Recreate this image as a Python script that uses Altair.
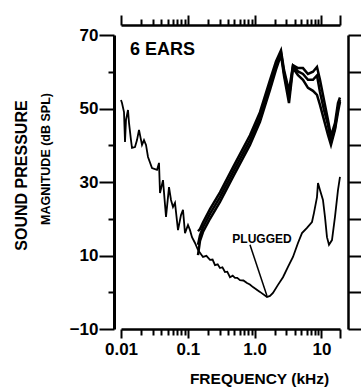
import altair as alt
import pandas as pd

# ---- data (frequency in kHz, level in dB SPL) ----
low_f = [0.01, 0.01035, 0.01109, 0.01148, 0.01188, 0.01273, 0.01318, 0.01411, 0.01461, 0.01620,
         0.01736, 0.01860, 0.02063, 0.02210, 0.02368, 0.02537, 0.02912, 0.03459, 0.03706, 0.03836,
         0.04254, 0.04718, 0.05232, 0.05606, 0.06004, 0.06434, 0.07134, 0.07911, 0.08476, 0.09081,
         0.1007, 0.1079, 0.1156, 0.1282, 0.1422]
low_db = [52.3, 51.5, 49.0, 40.9, 46.9, 49.6, 46.1, 41.4, 39.3, 39.5,
          41.4, 44.2, 40.1, 41.4, 40.1, 36.8, 33.8, 33.3, 35.2, 27.0,
          30.5, 20.5, 28.6, 25.1, 23.2, 24.3, 16.9, 21.0, 22.4, 16.1,
          18.3, 16.9, 15.0, 13.4, 11.5]

open_f = [0.1422, 0.1523, 0.1688, 0.2149, 0.3034, 0.4749, 0.8533, 1.204, 1.700, 2.091,
          2.484, 2.755, 3.273, 3.757, 4.464, 5.302, 6.300, 7.486, 8.594, 9.528,
          10.94, 12.56, 13.92, 15.98, 17.72, 18.99]
open_a_db = [16.6, 17.2, 19.0, 22.6, 27.2, 34.0, 42.7, 49.0, 57.7, 62.8,
             65.8, 60.5, 54.8, 61.8, 61.0, 61.0, 59.4, 60.0, 61.3, 57.8,
             52.3, 46.9, 42.5, 46.0, 51.5, 53.0]
open_b_db = [10.1, 14.0, 16.4, 20.0, 24.6, 31.4, 40.1, 46.4, 55.1, 60.6,
             64.6, 59.0, 51.5, 61.0, 59.1, 57.8, 55.6, 54.8, 53.7, 51.0,
             46.9, 42.8, 40.1, 44.2, 49.0, 51.8]
open_c_db = [12.9, 15.5, 17.7, 21.3, 25.9, 32.7, 41.4, 47.7, 56.4, 61.7,
             65.2, 59.8, 53.0, 61.6, 60.1, 59.4, 57.8, 57.8, 59.0, 54.5,
             49.6, 45.5, 40.9, 44.7, 50.1, 52.3]

plug_f = [0.1422, 0.1688, 0.19, 0.2149, 0.235, 0.2554, 0.28, 0.3034, 0.33, 0.3604,
          0.39, 0.4282, 0.47, 0.5087, 0.55, 0.6044, 0.68, 0.7694, 0.85, 0.9462,
          1.204, 1.533, 1.700, 1.885, 2.240, 2.662, 3.162, 3.757, 4.464, 5.124,
          6.087, 7.233, 7.748, 8.594, 8.896, 9.528, 10.56, 11.32, 12.13, 13.0,
          14.41, 15.98, 17.72, 18.99]
plug_db = [11.5, 9.6, 9.9, 8.8, 8.9, 7.4, 7.6, 6.6, 6.8, 5.5,
           5.6, 4.1, 4.5, 3.9, 3.9, 3.3, 3.2, 2.5, 2.1, 1.4,
           0.1, -1.3, -1.0, -0.2, 2.0, 4.1, 6.9, 9.6, 13.4, 16.1,
           17.5, 19.1, 21.6, 25.9, 29.7, 27.8, 25.1, 20.5, 15.0, 12.9,
           14.2, 20.5, 27.8, 31.4]

pointer_f = [0.853]
pointer_db = [12.9]
pointer_f2 = [1.535]
pointer_db2 = [-1.0]

label_text = ["6 EARS", "PLUGGED"]
label_f = [0.0136, 1.29]
label_db = [64.6, 13.4]

x_major = [0.01, 0.1, 1, 10, 19]
x_minor = [0.02, 0.03, 0.04, 0.05, 0.06, 0.07, 0.08, 0.09,
           0.2, 0.3, 0.4, 0.5, 0.6, 0.7, 0.8, 0.9,
           2, 3, 4, 5, 6, 7, 8, 9]
y_ticks = [-10, 0, 10, 20, 30, 40, 50, 60, 70]
y_major = [-10, 10, 30, 50, 70]


def frame(f, db, name):
    return pd.DataFrame({"f": f, "db": db, "series": name, "i": list(range(len(f)))})


low_df = frame(low_f, low_db, "low")
open_df = pd.concat([frame(open_f, open_a_db, "A"),
                     frame(open_f, open_b_db, "B"),
                     frame(open_f, open_c_db, "C")])
plug_df = frame(plug_f, plug_db, "plugged")
ptr_df = pd.DataFrame({"f": pointer_f, "db": pointer_db, "f2": pointer_f2, "db2": pointer_db2})
lab_df = pd.DataFrame({"t": label_text, "f": label_f, "db": label_db})

FONT = "Liberation Sans"
INK = "#000000"

xs = alt.Scale(type="log", domain=[0.01, 19], nice=False)
ys = alt.Scale(domain=[-10, 70], nice=False, zero=False)

x_vals = sorted(x_major + x_minor)
x_test = "indexof(" + str(x_major) + ", datum.value) >= 0"
y_test = "indexof(" + str(y_major) + ", datum.value) >= 0"

common = dict(domainColor=INK, tickColor=INK, grid=False, labelColor=INK,
              titleColor=INK, tickWidth=2, tickOpacity=1)

ax_bottom = alt.Axis(
    orient="bottom", values=x_vals,
    tickSize={"condition": {"test": x_test, "value": 9}, "value": 6}, domainWidth=2.5,
    labelExpr="datum.value == 0.01 ? '0.01' : datum.value == 0.1 ? '0.1' : datum.value == 1 ? '1.0' : datum.value == 10 ? '10' : ''",
    labelFont=FONT, labelFontSize=17, labelFontWeight="bold", labelPadding=3,
    labelFlush=False, labelOverlap=False,
    title="FREQUENCY (kHz)", titleFont=FONT, titleFontSize=15.5, titleFontWeight="bold",
    titleX=138, titleY=54, titleBaseline="alphabetic", titleAlign="center", **common)
ax_top = alt.Axis(orient="top", values=x_vals,
                  tickSize={"condition": {"test": x_test, "value": 10}, "value": 6}, offset=10,
                  labels=False, domainWidth=2.5, title="", **common)
ax_left = alt.Axis(
    orient="left", values=y_ticks,
    tickSize={"condition": {"test": y_test, "value": 15}, "value": 6}, offset=7, domainWidth=3,
    labelExpr="datum.value % 20 == 10 || datum.value % 20 == -10 ? replace(format(datum.value, 'd'), '-', '\u2212') : ''",
    labelFont=FONT, labelFontSize=17, labelFontWeight="bold", labelPadding=1,
    labelOverlap=False,
    title="SOUND PRESSURE", titleFont=FONT, titleFontSize=16, titleFontWeight="bold",
    titleX=-88, titleY=140, titleAngle=270, titleBaseline="alphabetic", titleAlign="center",
    **common)
ax_right = alt.Axis(orient="right", values=y_ticks, tickSize=15, offset=8, labels=False,
                    domainWidth=2.5, title="", **common)

low_line = alt.Chart(low_df).mark_line(color=INK, strokeWidth=1.8).encode(
    x=alt.X("f:Q", scale=xs, axis=ax_bottom),
    y=alt.Y("db:Q", scale=ys, axis=ax_left),
    order="i:Q")

open_lines = alt.Chart(open_df).mark_line(color=INK, strokeWidth=2.5).encode(
    x=alt.X("f:Q", scale=xs, axis=None),
    y=alt.Y("db:Q", scale=ys, axis=None),
    detail="series:N", order="i:Q")

plug_line = alt.Chart(plug_df).mark_line(color=INK, strokeWidth=1.8).encode(
    x=alt.X("f:Q", scale=xs, axis=ax_top),
    y=alt.Y("db:Q", scale=ys, axis=ax_right),
    order="i:Q")

pointer = alt.Chart(ptr_df).mark_rule(color=INK, strokeWidth=1.5).encode(
    x=alt.X("f:Q", scale=xs, axis=None),
    y=alt.Y("db:Q", scale=ys, axis=None),
    x2="f2:Q", y2="db2:Q")

labels_a = alt.Chart(lab_df.iloc[[0]]).mark_text(
    align="left", baseline="alphabetic", font=FONT, fontSize=18, fontWeight="bold",
    color=INK).encode(
    x=alt.X("f:Q", scale=xs, axis=None), y=alt.Y("db:Q", scale=ys, axis=None), text="t:N")

labels_b = alt.Chart(lab_df.iloc[[1]]).mark_text(
    align="center", baseline="alphabetic", font=FONT, fontSize=12, fontWeight="bold",
    color=INK).encode(
    x=alt.X("f:Q", scale=xs, axis=None), y=alt.Y("db:Q", scale=ys, axis=None), text="t:N")

sub_title = alt.Chart(pd.DataFrame({"t": ["MAGNITUDE (dB SPL)"]})).mark_text(
    angle=270, align="center", baseline="alphabetic", font=FONT, fontSize=12.5,
    fontWeight="bold", color=INK).encode(
    x=alt.value(-71), y=alt.value(124), text="t:N")

chart = alt.layer(low_line, open_lines, plug_line, pointer, labels_a, labels_b,
                  sub_title).resolve_axis(
    x="independent", y="independent"
).properties(
    width=219, height=294,
    autosize=alt.AutoSizeParams(type="none"),
    padding={"left": 121, "top": 35, "right": 21, "bottom": 61},
    background="white",
).configure_view(stroke=None)

chart.save("out.html", embed_options={"renderer": "svg", "actions": False})
